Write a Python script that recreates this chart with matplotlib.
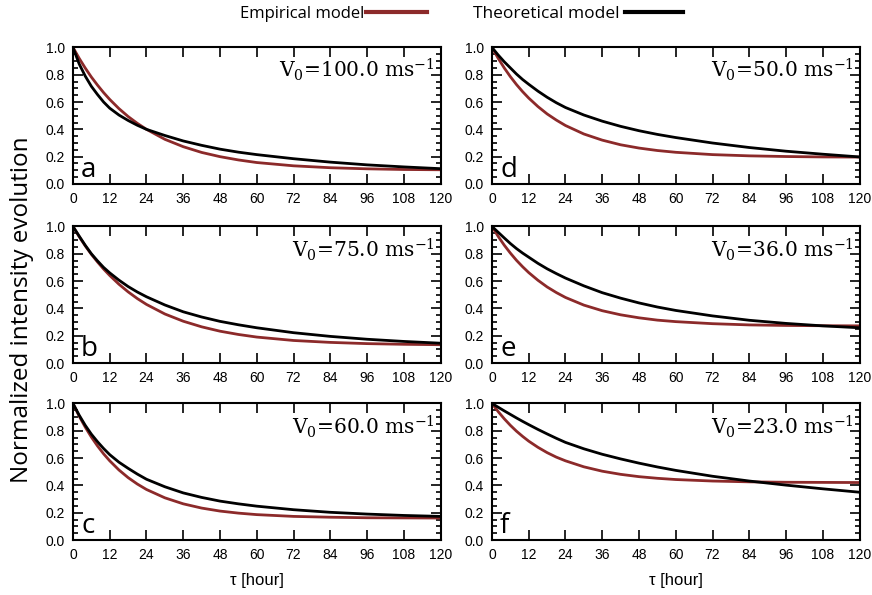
import matplotlib
matplotlib.use("Agg")
import matplotlib.pyplot as plt
from matplotlib.lines import Line2D
from matplotlib.ticker import MultipleLocator

plt.rcParams['mathtext.fontset'] = 'dejavuserif'

# time axis (hours)
t = [0, 2, 4, 6, 8, 10, 12, 15, 18, 21, 24, 30, 36, 42, 48, 54, 60, 72, 84, 96, 108, 120]

labels = ['a', 'b', 'c', 'd', 'e', 'f']
v0 = ['100.0', '75.0', '60.0', '50.0', '36.0', '23.0']

# empirical model (red) per panel
emp_a = [1.0, 0.921, 0.849, 0.783, 0.724, 0.669, 0.619, 0.552, 0.494, 0.444, 0.400, 0.327, 0.273, 0.231, 0.200, 0.176, 0.157, 0.133, 0.119, 0.111, 0.106, 0.104]
emp_b = [1.0, 0.926, 0.858, 0.796, 0.740, 0.688, 0.641, 0.577, 0.521, 0.472, 0.429, 0.359, 0.306, 0.265, 0.233, 0.209, 0.190, 0.165, 0.151, 0.142, 0.137, 0.134]
emp_c = [1.0, 0.908, 0.827, 0.754, 0.689, 0.631, 0.580, 0.513, 0.457, 0.410, 0.370, 0.309, 0.265, 0.234, 0.212, 0.197, 0.186, 0.173, 0.167, 0.163, 0.162, 0.161]
emp_d = [1.0, 0.921, 0.850, 0.786, 0.728, 0.676, 0.629, 0.567, 0.513, 0.468, 0.428, 0.366, 0.321, 0.287, 0.263, 0.245, 0.232, 0.215, 0.206, 0.201, 0.198, 0.197]
emp_e = [1.0, 0.928, 0.863, 0.805, 0.752, 0.705, 0.662, 0.606, 0.557, 0.516, 0.480, 0.424, 0.383, 0.353, 0.331, 0.314, 0.303, 0.288, 0.279, 0.275, 0.273, 0.272]
emp_f = [1.0, 0.941, 0.888, 0.840, 0.797, 0.759, 0.724, 0.679, 0.640, 0.607, 0.580, 0.536, 0.504, 0.481, 0.464, 0.452, 0.443, 0.432, 0.426, 0.423, 0.422, 0.421]

# theoretical model (black) per panel
theo_a = [1.0, 0.88, 0.79, 0.715, 0.655, 0.60, 0.555, 0.505, 0.465, 0.43, 0.40, 0.355, 0.315, 0.283, 0.255, 0.233, 0.215, 0.185, 0.16, 0.14, 0.125, 0.112]
theo_b = [1.0, 0.93, 0.862, 0.80, 0.748, 0.70, 0.66, 0.607, 0.56, 0.52, 0.485, 0.425, 0.375, 0.337, 0.305, 0.28, 0.258, 0.222, 0.195, 0.174, 0.158, 0.145]
theo_c = [1.0, 0.915, 0.84, 0.775, 0.72, 0.67, 0.625, 0.57, 0.525, 0.483, 0.445, 0.39, 0.345, 0.312, 0.285, 0.265, 0.248, 0.222, 0.203, 0.19, 0.18, 0.173]
theo_d = [1.0, 0.945, 0.895, 0.85, 0.805, 0.765, 0.73, 0.68, 0.635, 0.595, 0.56, 0.505, 0.46, 0.422, 0.39, 0.363, 0.34, 0.30, 0.267, 0.24, 0.218, 0.198]
theo_e = [1.0, 0.958, 0.916, 0.875, 0.838, 0.805, 0.775, 0.73, 0.69, 0.655, 0.622, 0.565, 0.515, 0.475, 0.44, 0.41, 0.385, 0.345, 0.313, 0.29, 0.272, 0.258]
theo_f = [1.0, 0.973, 0.946, 0.92, 0.894, 0.869, 0.845, 0.81, 0.777, 0.745, 0.715, 0.668, 0.628, 0.594, 0.563, 0.535, 0.51, 0.467, 0.432, 0.402, 0.375, 0.35]

emp = [emp_a, emp_b, emp_c, emp_d, emp_e, emp_f]
theo = [theo_a, theo_b, theo_c, theo_d, theo_e, theo_f]

RED = '#8c2a2a'

fig = plt.figure(figsize=(8.72, 5.95), dpi=100)

lefts = [0.0837, 0.5642]
width = 0.4215
bottoms = [0.6908, 0.3899, 0.0924]
height = 0.2295

for i in range(6):
    col = i // 3
    row = i % 3
    ax = fig.add_axes([lefts[col], bottoms[row], width, height])
    ax.plot(t, emp[i], color=RED, lw=2)
    ax.plot(t, theo[i], color='black', lw=2)
    ax.set_xlim(0, 120)
    ax.set_ylim(0, 1)
    ax.xaxis.set_major_locator(MultipleLocator(12))
    ax.yaxis.set_major_locator(MultipleLocator(0.2))
    ax.yaxis.set_minor_locator(MultipleLocator(0.05))
    ax.tick_params(which='both', direction='in', top=True, right=True,
                   labelsize=10, width=1.2, pad=6)
    ax.tick_params(which='major', length=7)
    ax.tick_params(which='minor', length=3.5)
    ax.set_yticklabels(['%.1f' % v for v in ax.get_yticks()], family='Liberation Sans')
    ax.set_xticklabels(['%d' % v for v in ax.get_xticks()], family='Liberation Sans')
    for s in ax.spines.values():
        s.set_linewidth(1.5)
    ax.text(0.022, 0.0, labels[i], transform=ax.transAxes, fontsize=20,
            family='Open Sans', va='bottom', ha='left')
    ax.text(0.985, 0.93, r'V$_0$=' + v0[i] + r' ms$^{-1}$', transform=ax.transAxes,
            fontsize=14.5, family='DejaVu Serif', ha='right', va='top')
    if row == 2:
        ax.set_xlabel('\u03c4 [hour]', fontsize=12, family='Liberation Sans', labelpad=8)

fig.text(0.025, 0.479, 'Normalized intensity evolution', rotation=90, fontsize=17.5,
         family='Open Sans', va='center', ha='center')

# top legend
fig.text(0.418, 0.977, 'Empirical model', fontsize=12, family='Open Sans',
         ha='right', va='center')
fig.add_artist(Line2D([0.420, 0.490], [0.979, 0.979], color=RED, lw=3))
fig.text(0.543, 0.977, 'Theoretical model', fontsize=12.5, family='Open Sans',
         ha='left', va='center')
fig.add_artist(Line2D([0.717, 0.783], [0.979, 0.979], color='black', lw=3))

fig.savefig('out.png', dpi=100)
